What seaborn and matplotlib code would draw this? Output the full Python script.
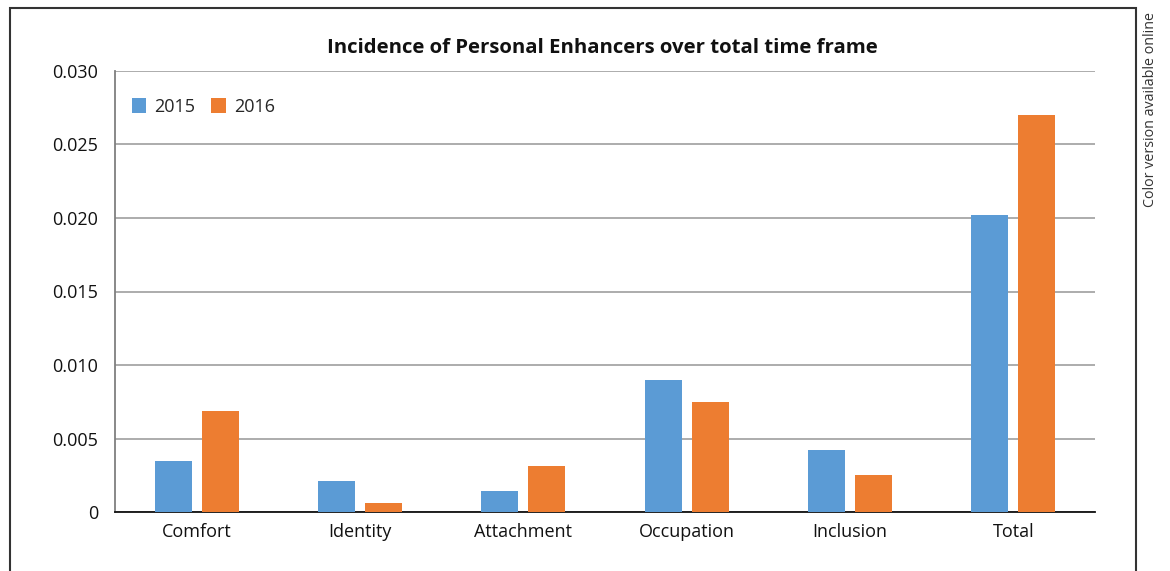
import pandas as pd
import numpy as np
import matplotlib
matplotlib.use("Agg")
import matplotlib.pyplot as plt
from matplotlib.patches import Rectangle
import seaborn as sns

# values
categories = ["Comfort", "Identity", "Attachment", "Occupation", "Inclusion", "Total"]
incidence_2015 = [0.0035, 0.0021, 0.0014, 0.0090, 0.0042, 0.0202]
incidence_2016 = [0.0069, 0.0006, 0.0031, 0.0075, 0.0025, 0.0270]
years = ["2015", "2016"]
colors = ["#5B9BD5", "#ED7D31"]
yticks = [0, 0.005, 0.010, 0.015, 0.020, 0.025, 0.030]
ytick_labels = ["0", "0.005", "0.010", "0.015", "0.020", "0.025", "0.030"]

df = pd.DataFrame({
    "category": categories * 2,
    "year": [years[0]] * len(categories) + [years[1]] * len(categories),
    "incidence": incidence_2015 + incidence_2016,
})

sns.set_style("white")
plt.rcParams["font.family"] = ["Open Sans", "DejaVu Sans"]

fig = plt.figure(figsize=(11.7, 5.71), dpi=100)
ax = fig.add_axes([115 / 1170, 59 / 571, 980 / 1170, 441 / 571])

sns.barplot(data=df, x="category", y="incidence", hue="year", palette=colors,
            width=0.576, gap=0.21, saturation=1, linewidth=0, ax=ax, zorder=3)

## axis styling, excel-like
ax.set_ylim(0, 0.030)
ax.set_xlim(-0.5, len(categories) - 0.5)
ax.set_yticks(yticks)
ax.set_yticklabels(ytick_labels, fontsize=13)
ax.yaxis.grid(True, color="#a6a6a6", linewidth=1.3, zorder=0)
ax.set_axisbelow(True)
ax.tick_params(axis="y", length=8, width=1.2, color="#7f7f7f", pad=4, labelcolor="#111111")
ax.tick_params(axis="x", which="major", length=0, labelsize=13, pad=8, labelcolor="#111111")
ax.set_xticks(np.arange(len(categories) + 1) - 0.5, minor=True)
ax.tick_params(axis="x", which="minor", length=8, width=1.2, color="#333333", direction="out")
ax.set_xlabel("")
ax.set_ylabel("")
for side in ["top", "right"]:
    ax.spines[side].set_visible(False)
ax.spines["left"].set_color("#7f7f7f")
ax.spines["left"].set_linewidth(1.3)
ax.spines["bottom"].set_color("#111111")
ax.spines["bottom"].set_linewidth(1.3)

ax.legend(loc="upper left", bbox_to_anchor=(0.0095, 0.955), frameon=False, ncol=2,
          fontsize=13, handlelength=0.8, handleheight=0.9, handletextpad=0.45,
          columnspacing=0.9, borderaxespad=0)

fig.text(602 / 1170, 1 - 48 / 571, "Incidence of Personal Enhancers over total time frame",
         ha="center", va="center", fontsize=14.7, fontweight="bold", color="#111111")

# outer frame of the figure panel
fig.patches.append(Rectangle((10 / 1170, -0.05), 1126 / 1170, 1.05 - 8 / 571,
                             transform=fig.transFigure, fill=False,
                             edgecolor="#333333", linewidth=1.5))

fig.text(1150 / 1170, 1 - 110 / 571, "Color version available online", rotation=90,
         ha="center", va="center", fontsize=10.3, color="#333333")

fig.savefig("out.png", dpi=100)
